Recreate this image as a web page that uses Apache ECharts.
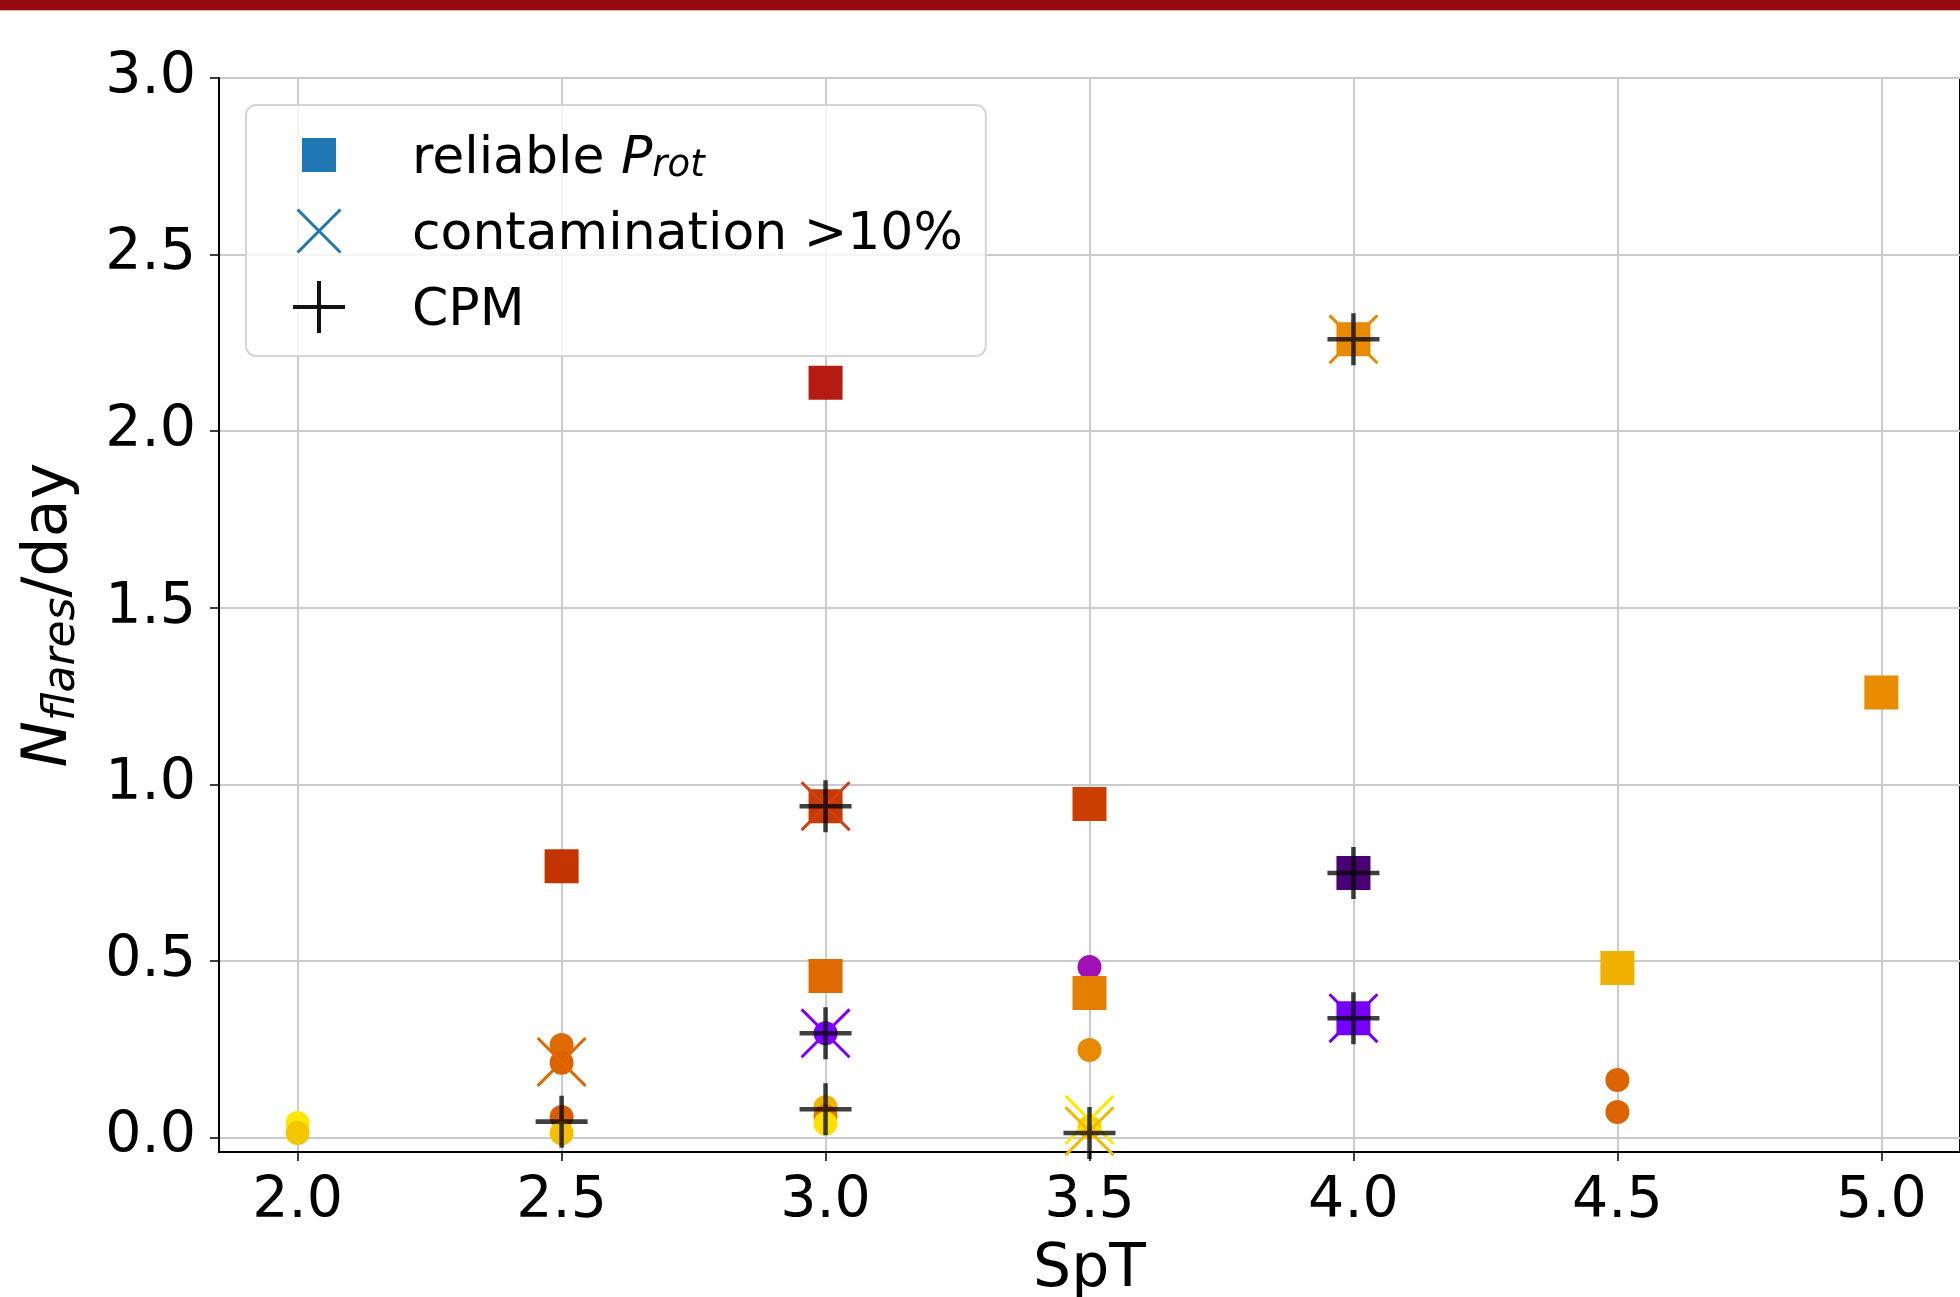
<!DOCTYPE html>
<html>
<head>
<meta charset="utf-8">
<script src="https://cdn.jsdelivr.net/npm/echarts@6/dist/echarts.min.js"></script>
<style>html,body{margin:0;padding:0;background:#fff;}#c{width:1960px;height:1297px;}</style>
</head>
<body>
<div id="c"></div>
<script>
// ---- data ----
const SPT_TICKS = [2.0, 2.5, 3.0, 3.5, 4.0, 4.5, 5.0];
const RATE_TICKS = [0.0, 0.5, 1.0, 1.5, 2.0, 2.5, 3.0];

// all stars (circles)
const circleSpT   = [2.0, 2.0, 2.5, 2.5, 2.5, 2.5, 3.0, 3.0, 3.0, 3.0, 3.5, 3.5, 3.5, 4.5, 4.5];
const circleRate  = [0.041, 0.013, 0.262, 0.212, 0.058, 0.012, 0.295, 0.086, 0.060, 0.040, 0.483, 0.248, 0.030, 0.163, 0.072];
const circleColor = ['#fde700', '#f3c600', '#e06a00', '#dc6200', '#d85c00', '#f2c000', '#8000ff', '#f0b400', '#e07800', '#ffe000', '#a010b4', '#e88a00', '#f8d000', '#dc6400', '#dc6400'];

// reliable P_rot (squares)
const squareSpT   = [2.5, 3.0, 3.0, 3.0, 3.5, 3.5, 4.0, 4.0, 4.0, 4.5, 5.0];
const squareRate  = [0.768, 2.137, 0.938, 0.457, 0.944, 0.409, 2.260, 0.749, 0.338, 0.480, 1.260];
const squareColor = ['#c43400', '#b41c12', '#c63a06', '#df6a00', '#cc3d00', '#e47e00', '#e88a00', '#4a0075', '#7600ff', '#f0b000', '#e88c00'];

// contamination > 10% (x markers)
const contSpT   = [2.5, 3.0, 3.0, 3.5, 3.5, 4.0, 4.0];
const contRate  = [0.214, 0.938, 0.295, 0.050, 0.018, 2.260, 0.338];
const contColor = ['#e06800', '#d04010', '#8000ff', '#ffe800', '#f5b800', '#e88a00', '#7300ff'];

// common proper motion (+ markers)
const cpmSpT  = [2.5, 3.0, 3.0, 3.0, 3.5, 4.0, 4.0, 4.0];
const cpmRate = [0.045, 0.938, 0.295, 0.080, 0.013, 2.260, 0.749, 0.338];

const LEGEND_NAMES = ['reliable', 'contamination', 'CPM'];
const LEGEND_TEXT = {
  'reliable': 'reliable {it|P}{sub|rot}',
  'contamination': 'contamination >10%',
  'CPM': 'CPM'
};

// ---- shape helpers ----
function f(n){ return (Math.round(n*100)/100).toString(); }
function xPath(cx, cy, h, t){
  const d = t / Math.SQRT2, x0 = cx-h, x1 = cx+h, y0 = cy-h, y1 = cy+h;
  return 'M'+f(x0)+','+f(y0+d)+'L'+f(x0+d)+','+f(y0)+'L'+f(x1)+','+f(y1-d)+'L'+f(x1-d)+','+f(y1)+'Z'+
         'M'+f(x1-d)+','+f(y0)+'L'+f(x1)+','+f(y0+d)+'L'+f(x0+d)+','+f(y1)+'L'+f(x0)+','+f(y1-d)+'Z';
}
function plusPath(cx, cy, h, t){
  const a = t/2;
  return 'M'+f(cx-a)+','+f(cy-h)+'L'+f(cx+a)+','+f(cy-h)+'L'+f(cx+a)+','+f(cy+h)+'L'+f(cx-a)+','+f(cy+h)+'Z'+
         'M'+f(cx-h)+','+f(cy-a)+'L'+f(cx+h)+','+f(cy-a)+'L'+f(cx+h)+','+f(cy+a)+'L'+f(cx-h)+','+f(cy+a)+'Z';
}
function rectPath(cx, cy, h){
  return 'M'+f(cx-h)+','+f(cy-h)+'L'+f(cx+h)+','+f(cy-h)+'L'+f(cx+h)+','+f(cy+h)+'L'+f(cx-h)+','+f(cy+h)+'Z';
}
const LW = 141, LH = 60, LCX = 53, LCY = 26;
function anchors(){ return 'M0,0L0.01,0Z M'+LW+','+LH+'L'+(LW-0.01)+','+LH+'Z '; }

const X_SYMBOL = 'path://' + xPath(50, 50, 50, 6);
const PLUS_SYMBOL = 'path://' + plusPath(50, 50, 50, 8.7);

function pts(xs, ys, cs){
  return xs.map((x, i) => cs ? {value:[x, ys[i]], itemStyle:{color: cs[i]}} : [x, ys[i]]);
}

const FONT = 'DejaVu Sans';
const chart = echarts.init(document.getElementById('c'), null, {renderer:'canvas'});
chart.setOption({
  animation: false,
  backgroundColor: '#ffffff',
  graphic: [
    {type:'rect', left:0, top:0, shape:{width:1960, height:10}, style:{fill:'#940a0d'}, z:100},
    {type:'rect', left:0, top:10, shape:{width:1960, height:1}, style:{fill:'#e6b0b0'}, z:100}
  ],
  grid: {left:219, top:78, right:0, bottom:145, outerBoundsMode:'none', containLabel:false,
         show:true, borderColor:'#000', borderWidth:2, backgroundColor:'transparent'},
  xAxis: {
    type:'value', min:1.851, max:5.149,
    name:'SpT', nameLocation:'middle', nameGap:88,
    nameTextStyle:{fontFamily:FONT, fontSize:60, color:'#000'},
    axisLine:{show:true, onZero:false, lineStyle:{color:'#000', width:2}},
    axisTick:{show:true, length:9, lineStyle:{color:'#000', width:1.5}, customValues: SPT_TICKS},
    axisLabel:{customValues: SPT_TICKS, formatter: v => v.toFixed(1), fontFamily:FONT, fontSize:57, color:'#000', margin:22},
    splitLine:{show:true, lineStyle:{color:'#cbcbcb', width:2}}
  },
  yAxis: {
    type:'value', min:-0.041, max:3.0,
    name:'{it|N}{sub|flares}{n|/day}', nameLocation:'middle', nameGap:134,
    nameTextStyle:{fontFamily:FONT, fontSize:60, color:'#000',
      rich:{
        it:{fontFamily:FONT, fontStyle:'italic', fontSize:62, lineHeight:70, color:'#000'},
        sub:{fontFamily:FONT, fontStyle:'italic', fontSize:44, lineHeight:70, verticalAlign:'bottom', color:'#000'},
        n:{fontFamily:FONT, fontSize:62, lineHeight:70, color:'#000'}
      }},
    axisLine:{show:true, onZero:false, lineStyle:{color:'#000', width:2}},
    axisTick:{show:true, length:9, lineStyle:{color:'#000', width:1.5}, customValues: RATE_TICKS},
    axisLabel:{customValues: RATE_TICKS, formatter: v => v.toFixed(1), fontFamily:FONT, fontSize:57, color:'#000', margin:23},
    splitLine:{show:true, lineStyle:{color:'#cbcbcb', width:2}}
  },
  legend: {
    orient:'vertical', left:246, top:105, padding:[24, 23, 15, 20], itemGap:16,
    itemWidth:LW, itemHeight:LH, selectedMode:false,
    backgroundColor:'rgba(255,255,255,0.8)', borderColor:'#d5d5d5', borderWidth:2, borderRadius:10,
    formatter: name => LEGEND_TEXT[name],
    textStyle:{fontFamily:FONT, fontSize:52, color:'#000', lineHeight:52,
      rich:{
        it:{fontFamily:FONT, fontStyle:'italic', fontSize:52, lineHeight:52, color:'#000'},
        sub:{fontFamily:FONT, fontStyle:'italic', fontSize:37, lineHeight:52, verticalAlign:'bottom', color:'#000'}
      }},
    data: [
      {name: LEGEND_NAMES[0], icon: 'path://' + anchors() + rectPath(LCX, LCY, 17), itemStyle:{color:'#1f77b4', opacity:1}},
      {name: LEGEND_NAMES[1], icon: 'path://' + anchors() + xPath(LCX, LCY, 22.5, 3), itemStyle:{color:'#1f77b4', opacity:1}},
      {name: LEGEND_NAMES[2], icon: 'path://' + anchors() + plusPath(LCX, LCY, 26, 4), itemStyle:{color:'#111111', opacity:1}}
    ]
  },
  series: [
    {name:'all', type:'scatter', symbol:'circle', symbolSize:24, itemStyle:{opacity:1}, data: pts(circleSpT, circleRate, circleColor), silent:true},
    {name:'reliable', type:'scatter', symbol:'rect', symbolSize:34, itemStyle:{color:'#1f77b4', opacity:1}, data: pts(squareSpT, squareRate, squareColor), silent:true},
    {name:'contamination', type:'scatter', symbol: X_SYMBOL, symbolSize:50, itemStyle:{color:'#1f77b4', opacity:1}, data: pts(contSpT, contRate, contColor), silent:true},
    {name:'CPM', type:'scatter', symbol: PLUS_SYMBOL, symbolSize:52, itemStyle:{color:'rgba(0,0,0,0.75)', opacity:1}, data: pts(cpmSpT, cpmRate, null), silent:true}
  ]
});
</script>
</body>
</html>
